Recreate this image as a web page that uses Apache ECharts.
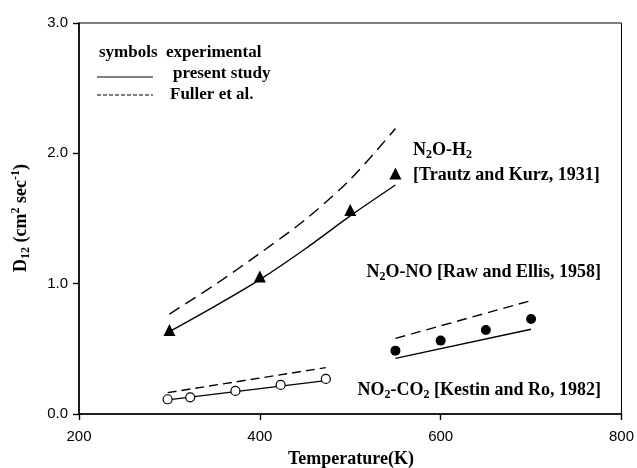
<!DOCTYPE html>
<html><head><meta charset="utf-8">
<script src="https://cdn.jsdelivr.net/npm/echarts@6/dist/echarts.min.js"></script>
<style>html,body{margin:0;padding:0;background:#fff}#c{width:637px;height:468px}</style>
</head><body><div id="c"></div>
<script>
// ---- data ----
const xTicks = [200, 400, 600, 800];
const yTicks = [0.0, 1.0, 2.0, 3.0];

// N2O-H2 [Trautz and Kurz, 1931]
const h2ExpT = [300, 400, 500, 550];
const h2ExpD = [0.645, 1.055, 1.565, 1.845];
const h2CalcT = [300, 350, 400, 450, 500, 550];
const h2PresentD = [0.632, 0.826, 1.031, 1.266, 1.52, 1.757];
const h2FullerD = [0.767, 0.99, 1.233, 1.49, 1.8, 2.19];

// N2O-NO [Raw and Ellis, 1958]
const noExpT = [550, 600, 650, 700];
const noExpD = [0.486, 0.563, 0.645, 0.729];
const noCalcT = [550, 700];
const noPresentD = [0.427, 0.65];
const noFullerD = [0.58, 0.87];

// NO2-CO2 [Kestin and Ro, 1982]
const co2ExpT = [298, 323, 373, 423, 473];
const co2ExpD = [0.113, 0.128, 0.177, 0.223, 0.269];
const co2CalcT = [298, 473];
const co2PresentD = [0.108, 0.256];
const co2FullerD = [0.164, 0.356];

const pairs = (xs, ys) => xs.map((x, i) => [x, ys[i]]);

const serif = '"Liberation Serif","Times New Roman",serif';
const sans = '"Liberation Sans",Arial,sans-serif';

const chart = echarts.init(document.getElementById('c'), null, {renderer: 'canvas'});

const lineS = (name, data, dashed, dash, smooth) => ({
  name, type: 'line', data, showSymbol: false, symbol: 'none', smooth: smooth || false,
  lineStyle: {color: '#000', width: 1.4, type: dashed ? dash : 'solid'},
  silent: true, z: 2
});
const scatS = (name, data, symbol, size, fill) => ({
  name, type: 'scatter', data, symbol, symbolSize: size,
  itemStyle: {color: fill, borderColor: '#000', borderWidth: fill === '#fff' ? 1.2 : 0, opacity: 1},
  z: 3
});

const subRich = {
  n: {fontFamily: serif, fontWeight: 'bold', fontSize: 18, lineHeight: 22, color: '#000'},
  s: {fontFamily: serif, fontWeight: 'bold', fontSize: 12, lineHeight: 14, color: '#000', verticalAlign: 'bottom'},
  p: {fontFamily: serif, fontWeight: 'bold', fontSize: 12, lineHeight: 14, color: '#000', verticalAlign: 'top'}
};

const option = {
  animation: false,
  backgroundColor: '#fff',
  grid: {left: 79, right: 15, top: 23, bottom: 54, show: true, borderColor: '#000', borderWidth: 1, backgroundColor: 'transparent'},
  xAxis: {
    type: 'value', min: xTicks[0], max: xTicks[xTicks.length - 1], interval: 200,
    axisLine: {show: true, onZero: false, lineStyle: {color: '#000', width: 1.6}},
    axisTick: {show: true, inside: false, length: 6, lineStyle: {color: '#000', width: 1.4}},
    axisLabel: {color: '#000', fontFamily: sans, fontSize: 15, margin: 15},
    splitLine: {show: false}
  },
  yAxis: {
    type: 'value', min: yTicks[0], max: yTicks[yTicks.length - 1], interval: 1,
    axisLine: {show: true, onZero: false, lineStyle: {color: '#000', width: 1.6}},
    axisTick: {show: true, inside: false, length: 6, lineStyle: {color: '#000', width: 1.4}},
    axisLabel: {color: '#000', fontFamily: sans, fontSize: 15, margin: 11, formatter: v => v.toFixed(1)},
    splitLine: {show: false}
  },
  series: [
    lineS('N2O-H2 present', pairs(h2CalcT, h2PresentD), false, null, 0.3),
    lineS('N2O-H2 Fuller', pairs(h2CalcT, h2FullerD), true, [12, 7], 0.3),
    scatS('N2O-H2 exp', pairs(h2ExpT, h2ExpD), 'triangle', 12, '#000'),
    lineS('N2O-NO present', pairs(noCalcT, noPresentD), false),
    lineS('N2O-NO Fuller', pairs(noCalcT, noFullerD), true, [10, 6]),
    scatS('N2O-NO exp', pairs(noExpT, noExpD), 'circle', 10, '#000'),
    lineS('NO2-CO2 present', pairs(co2CalcT, co2PresentD), false),
    lineS('NO2-CO2 Fuller', pairs(co2CalcT, co2FullerD), true, [9, 5]),
    scatS('NO2-CO2 exp', pairs(co2ExpT, co2ExpD), 'circle', 9, '#fff')
  ],
  graphic: [
    // legend
    {type: 'text', left: 99, top: 44, style: {text: 'symbols  experimental', font: 'bold 17px ' + serif, fill: '#000'}},
    {type: 'line', shape: {x1: 97, y1: 77, x2: 153, y2: 77}, style: {stroke: '#000', lineWidth: 1.2}},
    {type: 'text', left: 173, top: 65, style: {text: 'present study', font: 'bold 17px ' + serif, fill: '#000'}},
    {type: 'line', shape: {x1: 97, y1: 95, x2: 153, y2: 95}, style: {stroke: '#000', lineWidth: 1.2, lineDash: [4, 2]}},
    {type: 'text', left: 170, top: 86, style: {text: 'Fuller et al.', font: 'bold 17px ' + serif, fill: '#000'}},
    // annotations
    {type: 'text', x: 413, y: 150, style: {text: '{n|N}{s|2}{n|O-H}{s|2}', rich: subRich, verticalAlign: 'middle', align: 'left'}},
    {type: 'text', x: 413, y: 175, style: {text: '{n|[Trautz and Kurz, 1931]}', rich: subRich, verticalAlign: 'middle', align: 'left'}},
    {type: 'text', x: 601, y: 272, style: {text: '{n|N}{s|2}{n|O-NO [Raw and Ellis, 1958]}', rich: subRich, verticalAlign: 'middle', align: 'right'}},
    {type: 'text', x: 601, y: 390, style: {text: '{n|NO}{s|2}{n|-CO}{s|2}{n| [Kestin and Ro, 1982]}', rich: subRich, verticalAlign: 'middle', align: 'right'}},
    // axis titles
    {type: 'text', x: 351, y: 459, style: {text: 'Temperature(K)', font: 'bold 18px ' + serif, fill: '#000', align: 'center', verticalAlign: 'middle'}},
    {type: 'text', x: 21, y: 218, rotation: Math.PI / 2, style: {text: '{n|D}{s|12}{n| (cm}{p|2}{n| sec}{p|-1}{n|)}', rich: subRich, align: 'center', verticalAlign: 'middle'}}
  ]
};
chart.setOption(option);
</script></body></html>
